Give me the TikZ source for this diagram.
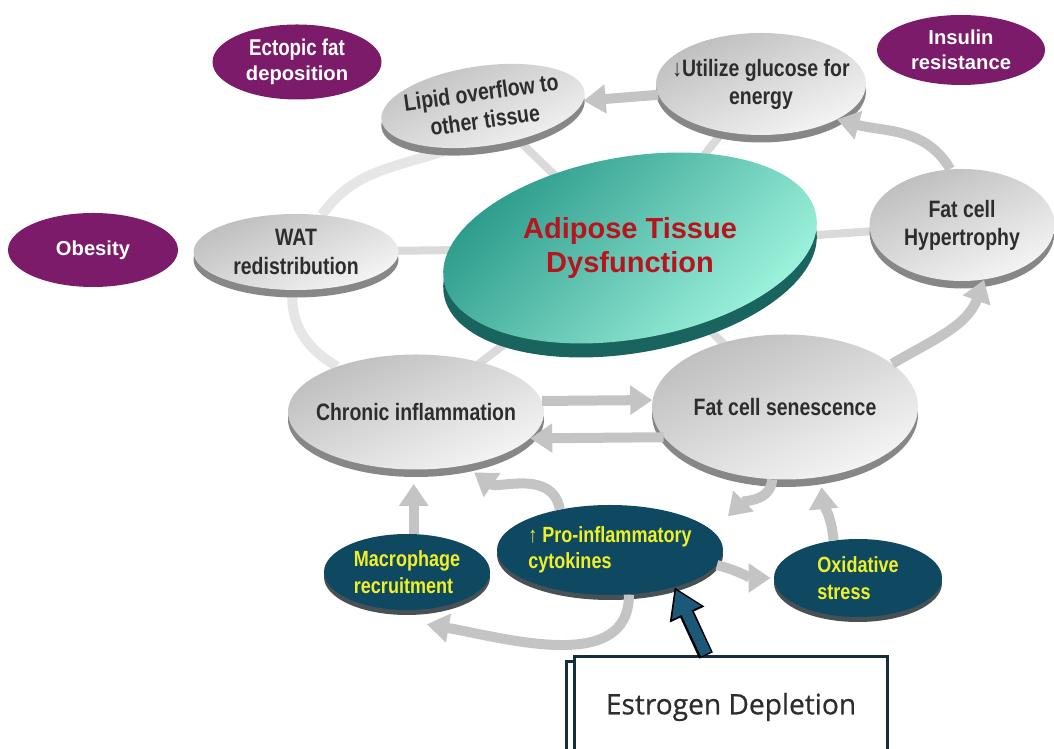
\documentclass[tikz,border=0pt]{standalone}
\usepackage{fontspec}
\setmainfont{Liberation Sans}
\newfontfamily\narrowsans{Liberation Sans}[FakeStretch=0.82]
\newfontfamily\boxsans{Open Sans}[FakeBold=0.6]
\usetikzlibrary{arrows.meta, shapes.geometric, shadows, backgrounds}
\definecolor{plumfill}{RGB}{123,27,106}
\definecolor{navyfill}{RGB}{15,72,97}
\definecolor{navyrim}{RGB}{70,80,85}
\definecolor{yellowtext}{RGB}{240,240,40}
\definecolor{darkred}{RGB}{185,20,30}
\definecolor{arrowgray}{RGB}{196,196,196}
\definecolor{spokegray}{RGB}{218,218,218}
\definecolor{ringgray}{RGB}{230,230,230}
\definecolor{diskdark}{RGB}{190,190,190}
\definecolor{disklight}{RGB}{245,245,245}
\definecolor{rimgray}{RGB}{135,135,135}
\definecolor{tealdark}{RGB}{38,150,135}
\definecolor{teallight}{RGB}{165,248,225}
\definecolor{tealrim}{RGB}{25,100,95}
\definecolor{estblue}{RGB}{28,88,120}
\definecolor{boxline}{RGB}{22,45,60}
\definecolor{textgray}{RGB}{45,45,45}

\begin{document}
\begin{tikzpicture}[x=0.2mm, y=0.2mm,
      disk/.style={ellipse, inner xsep=-8mm, inner ysep=-4mm, align=center},
      greydisk/.style={disk, top color=diskdark, bottom color=disklight, shading angle=25,
        general shadow={shadow yshift=-1.5mm, fill=rimgray},
        text=textgray, font=\narrowsans\bfseries\fontsize{13.5}{16}\selectfont},
      plumdisk/.style={disk, fill=plumfill, text=white,
        font=\bfseries\fontsize{11.5}{14}\selectfont},
      navydisk/.style={disk, fill=navyfill, align=left,
        general shadow={shadow yshift=-1mm, fill=navyrim},
        text=yellowtext, font=\narrowsans\bfseries\fontsize{12.5}{15}\selectfont},
      tealdisk/.style={ellipse, inner sep=0pt, top color=tealdark, bottom color=teallight,
        shading angle=45, general shadow={shadow yshift=-2.8mm, fill=tealrim}},
      estbox/.style={rectangle, draw=boxline, line width=0.6mm, fill=white,
        general shadow={shadow xshift=-1.6mm, shadow yshift=-1mm, fill=white,
          draw=boxline, line width=0.6mm},
        text=textgray, font=\boxsans\fontsize{16}{19}\selectfont,
        minimum width=62.6mm, minimum height=20mm},
      spoke/.style={draw=spokegray, line width=1.6mm},
      ring/.style={draw=ringgray, line width=2mm},
      garrow/.style={draw=arrowgray, line width=2mm,
        -{Triangle[width=5.6mm, length=4.4mm]}},
      estout/.style={draw=black, line width=3mm, -{Triangle[width=7.2mm, length=6mm]}},
      estin/.style={draw=estblue, line width=2.2mm, -{Triangle[width=6mm, length=5mm]},
        shorten >=0.6mm}
    ]
      \useasboundingbox (0,0) rectangle (1054,749);
      \clip (0,0) rectangle (1054,749);
      % --- Outer purple labels ---
      \node[plumdisk, minimum width=33.8mm, minimum height=15mm] (ectopic) at (297,687)
        {\narrowsans\fontsize{13}{15}\selectfont Ectopic fat\\deposition};
      \node[plumdisk, minimum width=33.6mm, minimum height=14mm] (insulin) at (961,699)
        {Insulin\\resistance};
      \node[plumdisk, minimum width=34mm, minimum height=14.8mm] (obesity) at (93,499) {Obesity};
      % --- Ring of grey disks ---
      \node[greydisk, rotate=8, minimum width=41mm, minimum height=16mm] (lipid) at (483,643)
        {\fontsize{13.5}{17.5}\selectfont Lipid overflow to\\other tissue};
      \node[greydisk, minimum width=42mm, minimum height=20.4mm] (util) at (761,665)
        {↓Utilize glucose for\\energy};
      \node[greydisk, minimum width=41mm, minimum height=15.2mm] (wat) at (296,497)
        {WAT\\redistribution};
      \node[greydisk, minimum width=37mm, minimum height=22.4mm] (hyper) at (962,524)
        {Fat cell\\Hypertrophy};
      \node[greydisk, minimum width=51.2mm, minimum height=23mm] (chronic) at (416,337)
        {Chronic inflammation};
      \node[greydisk, minimum width=53.2mm, minimum height=29mm] (sen) at (785,342)
        {Fat cell senescence};
      % --- Centre disk ---
      \node[tealdisk, rotate=10, minimum width=75.6mm, minimum height=36.4mm] (atd) at (630,501) {};
      \node[font=\bfseries\fontsize{16.5}{19}\selectfont, text=darkred, align=center] (atdtext)
        at (atd) {Adipose Tissue\\Dysfunction};
      % --- Lower navy disks ---
      \node[navydisk, minimum width=33.2mm, minimum height=15.2mm] (macro) at (407,177)
        {Macrophage\\recruitment};
      \node[navydisk, minimum width=45.2mm, minimum height=18mm] (cyto) at (610,199)
        {↑ Pro-inflammatory\\cytokines};
      \node[navydisk, minimum width=33.6mm, minimum height=15.6mm] (oxid) at (858,171)
        {Oxidative\\stress};
      % --- Estrogen box ---
      \node[estbox] (est) at (731,42) {Estrogen Depletion};
      % --- Light spokes and ring behind the disks ---
      \begin{scope}[on background layer]
        \foreach \n in {lipid, util, wat, hyper, chronic, sen}
          \draw[spoke] (atd.center) -- (\n.center);
        \draw[ring] (lipid.225) to[out=200, in=55] (wat.55);
        \draw[ring] (wat.-95) to[out=-95, in=150] (chronic.150);
      \end{scope}
      % --- Grey arrows ---
      \draw[garrow] (util.186) -- (lipid.-5);
      \draw[garrow] (hyper.102) to[out=120, in=-15] (util.-25);
      \draw[garrow] (sen.22) to[out=30, in=-110] (hyper.-68);
      \draw[garrow] (chronic.5) -- (sen.177);
      \draw[garrow] (sen.194) -- (chronic.-13);
      \draw[garrow, shorten >=2.4mm] (cyto.141) to[out=100, in=-35] (chronic.-48);
      \draw[garrow] (sen.-100) to[out=-95, in=45] ([xshift=6mm, yshift=1mm]cyto.18);
      \draw[garrow, shorten >=2.8mm] (macro.80) -- (macro.80 |- chronic.south);
      \draw[garrow, shorten >=2mm] (oxid.123) to[out=95, in=-85] (sen.-63);
      \draw[garrow, shorten >=0.6mm] (cyto.-8) to[out=-15, in=180] (oxid.west);
      \draw[garrow] (cyto.-67) to[out=-90, in=-10] ([yshift=-3mm]macro.-62);
      % --- Estrogen arrow ---
      \draw[estout] ([xshift=-5mm]est.north) -- (cyto.-30);
      \draw[estin] ([xshift=-5mm, yshift=0.3mm]est.north) -- (cyto.-30);
    \end{tikzpicture}
\end{document}
